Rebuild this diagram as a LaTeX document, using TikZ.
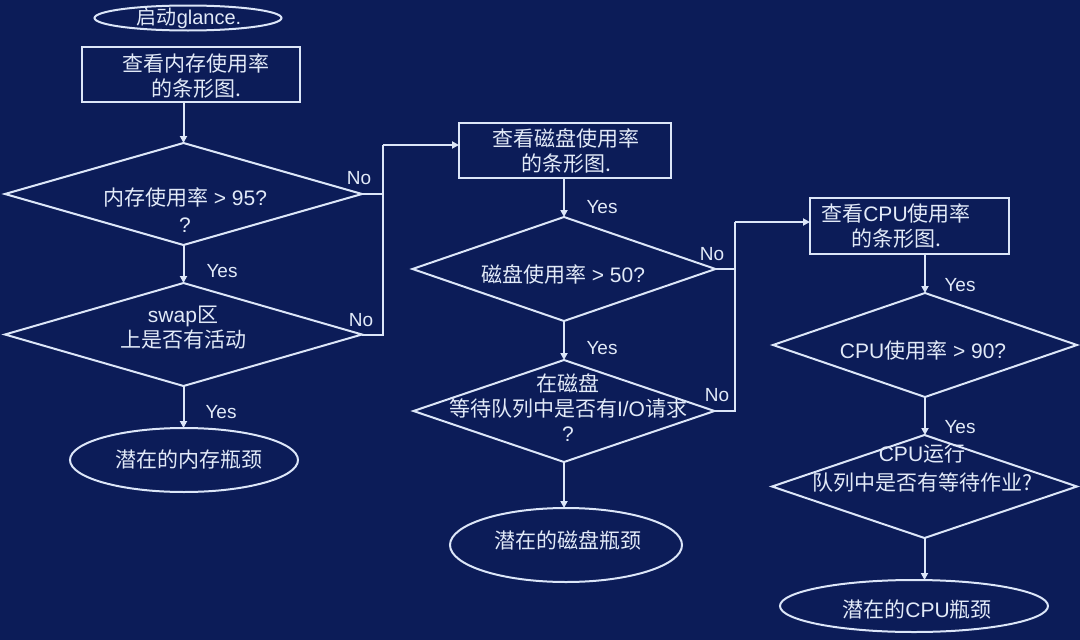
\documentclass[tikz,border=0pt]{standalone}
\usepackage{fontspec}
\setmainfont{Liberation Sans}
\newfontfamily\cjk{Noto Sans CJK SC}
\usetikzlibrary{shapes.geometric,arrows.meta}
\definecolor{bg}{RGB}{12,28,88}
\definecolor{fg}{RGB}{226,234,248}
\definecolor{ln}{RGB}{220,230,248}
\tikzset{
  shp/.style={draw=ln, line width=2pt, inner sep=0pt, outer sep=0pt},
  box/.style={shp, rectangle},
  dia/.style={shp, diamond},
  oval/.style={shp, ellipse},
  txt/.style={text=fg, align=center, inner sep=0pt, font=\fontsize{21}{25}\selectfont},
  lbl/.style={text=fg, inner sep=0pt, font=\fontsize{19}{22}\selectfont},
  conn/.style={draw=ln, line width=2pt},
  arr/.style={conn, -{Triangle[length=7pt,width=7pt]}}
}
\begin{document}
\begin{tikzpicture}[x=1pt,y=-1pt]
\fill[bg] (0,0) rectangle (1080,640);
\useasboundingbox (0,0) rectangle (1080,640);

% left column
\node[oval, minimum width=187, minimum height=25] (start) at (188,18) {};
\node[txt, font=\fontsize{20}{25}\selectfont] (tstart) at (189,18) {{\cjk 启动}glance.};
\node[box, minimum width=218, minimum height=55] (box1) at (191,74.5) {};
\node[txt] (tbox1) at (196,76) {{\cjk 查看内存使用率}\\{\cjk 的条形图.}};
\node[dia, minimum width=357, minimum height=102] (d1) at (183.5,194) {};
\node[txt, font=\fontsize{21}{27}\selectfont] (td1) at (185,210) {{\cjk 内存使用率} > 95?\\?};
\node[dia, minimum width=357, minimum height=103] (d2) at (183.5,334.5) {};
\node[txt] (td2) at (183,328) {swap{\cjk 区}\\{\cjk 上是否有活动}};
\node[oval, minimum width=228, minimum height=64] (e1) at (184,460) {};
\node[txt] (te1) at (189,459) {\cjk 潜在的内存瓶颈};

% middle column
\node[box, minimum width=212, minimum height=55] (box2) at (565,150.5) {};
\node[txt] (tbox2) at (566,151) {{\cjk 查看磁盘使用率}\\{\cjk 的条形图.}};
\node[dia, minimum width=303, minimum height=104] (d3) at (564,269) {};
\node[txt] (td3) at (563,274) {{\cjk 磁盘使用率} > 50?};
\node[dia, minimum width=301, minimum height=102] (d4) at (564,411) {};
\node[txt] (td4) at (568,408) {{\cjk 在磁盘}\\{\cjk 等待队列中是否有}I/O{\cjk 请求}\\?};
\node[oval, minimum width=232, minimum height=74] (e2) at (566,545) {};
\node[txt] (te2) at (568,540) {\cjk 潜在的磁盘瓶颈};

% right column
\node[box, minimum width=199, minimum height=56] (box3) at (909.5,226) {};
\node[txt] (tbox3) at (896,226) {{\cjk 查看}CPU{\cjk 使用率}\\{\cjk 的条形图.}};
\node[dia, minimum width=304, minimum height=104] (d5) at (925,345) {};
\node[txt] (td5) at (923,350) {CPU{\cjk 使用率} > 90?};
\node[dia, minimum width=305, minimum height=103] (d6) at (924.5,486.5) {};
\node[txt, font=\fontsize{21}{29}\selectfont] (td6) at (922,468) {CPU{\cjk 运行}\\{\cjk 队列中是否有等待作业?}};
\node[oval, minimum width=268, minimum height=52] (e3) at (914,606) {};
\node[txt] (te3) at (917,609) {{\cjk 潜在的}CPU{\cjk 瓶颈}};

% junctions
\coordinate (j1) at (383,145);
\coordinate (j2) at (735,222);

% connectors left
\draw[arr] (d1.north |- box1.south) -- (d1.north);
\draw[arr] (d1.south) -- (d2.north);
\draw[arr] (d2.south) -- (e1.north -| d2.south);
\draw[conn] (d1.east) -- (d1.east -| j1);
\draw[conn] (d2.east) -- (d2.east -| j1) -- (j1);
\draw[arr] (j1) -- (j1 -| box2.west);

% connectors middle
\draw[arr] (d3.north |- box2.south) -- (d3.north);
\draw[arr] (d3.south) -- (d4.north);
\draw[arr] (d4.south) -- (d4.south |- e2.north);
\draw[conn] (d3.east) -- (d3.east -| j2);
\draw[conn] (d4.east) -- (d4.east -| j2) -- (j2);
\draw[arr] (j2) -- (j2 -| box3.west);

% connectors right
\draw[arr] (d5.north |- box3.south) -- (d5.north);
\draw[arr] (d5.south) -- (d6.north -| d5.south);
\draw[arr] (d6.south) -- (d6.south |- e3.north);

% labels
\node[lbl] (no1) at (359,178) {No};
\node[lbl] (no2) at (361,320) {No};
\node[lbl] (yes1) at (222,271) {Yes};
\node[lbl] (yes2) at (221,412) {Yes};
\node[lbl] (yes3) at (602,207) {Yes};
\node[lbl] (no3) at (712,254) {No};
\node[lbl] (yes4) at (602,348) {Yes};
\node[lbl] (no4) at (717,395) {No};
\node[lbl] (yes5) at (960,285) {Yes};
\node[lbl] (yes6) at (960,427) {Yes};
\end{tikzpicture}
\end{document}
